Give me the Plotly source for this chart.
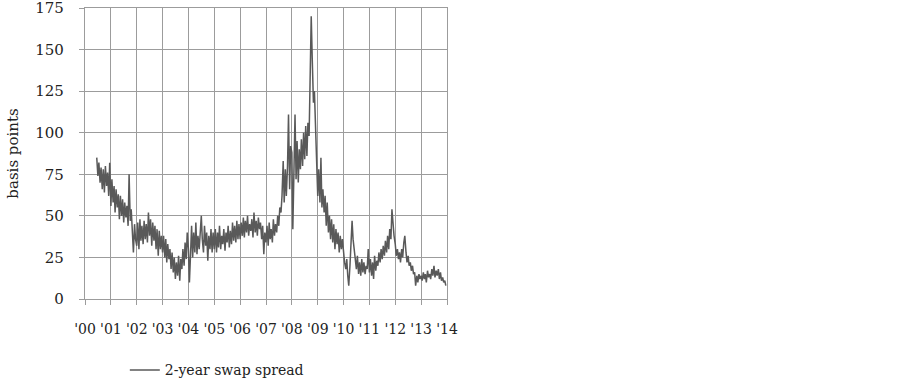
import pandas as pd
import plotly.graph_objects as go

# Semi-monthly readings (1st and 15th of each month), basis points
v2000 = [85, 74, 82, 70, 79, 66, 78, 64, 80, 68, 76, 62, 82]  # from 15 Jun 2000
v2001 = [56, 72, 58, 68, 52, 66, 55, 63, 48, 62, 50, 60, 46, 58, 49, 56, 44, 75, 47, 54, 42, 28, 45, 36]
v2002 = [32, 46, 30, 48, 35, 44, 33, 47, 36, 45, 34, 52, 38, 48, 32, 46, 35, 44, 30, 42, 26, 41, 30, 38]
v2003 = [28, 38, 25, 36, 22, 33, 24, 30, 18, 28, 16, 25, 12, 22, 14, 26, 11, 24, 18, 30, 20, 34, 24, 40]
v2004 = [30, 10, 28, 44, 25, 40, 28, 46, 27, 38, 30, 42, 50, 36, 28, 44, 32, 40, 23, 38, 30, 42, 28, 40]
v2005 = [30, 42, 28, 40, 31, 44, 30, 38, 33, 42, 29, 40, 34, 44, 31, 41, 33, 46, 35, 44, 34, 47, 36, 45]
v2006 = [36, 46, 38, 49, 37, 47, 40, 50, 38, 45, 41, 48, 37, 52, 40, 47, 38, 49, 42, 46, 36, 44, 27, 40]
v2007 = [34, 44, 32, 46, 36, 42, 34, 48, 38, 45, 40, 50, 44, 55, 52, 62, 83, 58, 78, 62, 80, 111, 66, 92]
v2008 = [88, 42, 75, 111, 72, 95, 70, 90, 78, 96, 80, 100, 84, 104, 86, 106, 98, 132, 170, 145, 118, 125, 100, 80]
v2009 = [62, 78, 58, 85, 55, 66, 52, 62, 44, 58, 40, 50, 36, 48, 34, 45, 30, 42, 33, 40, 28, 38, 30, 36]
v2010 = [26, 22, 18, 24, 14, 8, 20, 30, 47, 36, 28, 22, 18, 26, 15, 22, 14, 24, 16, 22, 15, 20, 18, 30]
v2011 = [16, 24, 14, 22, 12, 26, 17, 23, 20, 28, 22, 30, 24, 32, 26, 35, 28, 38, 30, 42, 36, 54, 44, 38]
v2012 = [33, 26, 30, 24, 28, 22, 30, 25, 34, 38, 28, 22, 26, 20, 22, 17, 20, 15, 16, 8, 14, 10, 15, 12]
v2013 = [14, 11, 16, 12, 15, 10, 17, 13, 15, 12, 18, 14, 20, 13, 17, 14, 18, 12, 16, 11, 13, 10, 11, 8]

values = (v2000 + v2001 + v2002 + v2003 + v2004 + v2005 + v2006 + v2007
          + v2008 + v2009 + v2010 + v2011 + v2012 + v2013)
dates = pd.date_range("2000-06-15", "2013-12-15", freq="SMS")
assert len(dates) == len(values)

series_name = "2-year swap spread"
y_title = "basis points"

FONT = "DejaVu Serif"
GRID = "#9c9c9c"

fig = go.Figure()
fig.add_trace(go.Scatter(x=dates, y=values, mode="lines", name=series_name,
                         line=dict(color="#595959", width=1.5)))

fig.update_layout(
    width=903, height=383,
    margin=dict(l=85, r=456, t=8, b=84, autoexpand=False),
    paper_bgcolor="white", plot_bgcolor="white",
    font=dict(family=FONT, size=15, color="#222222"),
    showlegend=True,
    legend=dict(orientation="h", x=0.11, xanchor="left", y=-0.245, yanchor="middle",
                font=dict(family=FONT, size=14, color="#222222"),
                bgcolor="rgba(0,0,0,0)"),
)
fig.update_xaxes(
    type="date", range=["2000-01-01", "2014-01-01"],
    dtick="M12", tick0="2000-01-01", tickformat="'%y",
    showgrid=True, gridcolor=GRID, gridwidth=1.3,
    ticks="outside", ticklen=5, tickcolor=GRID, tickwidth=1.3,
    showline=True, linecolor=GRID, linewidth=1.3, mirror=True,
    tickfont=dict(family=FONT, size=14), ticklabelstandoff=12,
    ticklabeloverflow="allow",
    zeroline=False, automargin=False,
)
fig.update_yaxes(
    range=[0, 175], dtick=25, tick0=0,
    showgrid=True, gridcolor=GRID, gridwidth=1.3,
    ticks="outside", ticklen=5, tickcolor=GRID, tickwidth=1.3,
    showline=True, linecolor=GRID, linewidth=1.3, mirror=True,
    tickfont=dict(family=FONT, size=15), ticklabelstandoff=12,
    ticklabeloverflow="allow",
    title=dict(text=y_title, font=dict(family=FONT, size=15), standoff=12),
    zeroline=False, automargin=False,
)

fig.write_html("out.html", config={"displayModeBar": False},
               post_script="document.body.style.margin='0';document.body.style.overflow='hidden';")
